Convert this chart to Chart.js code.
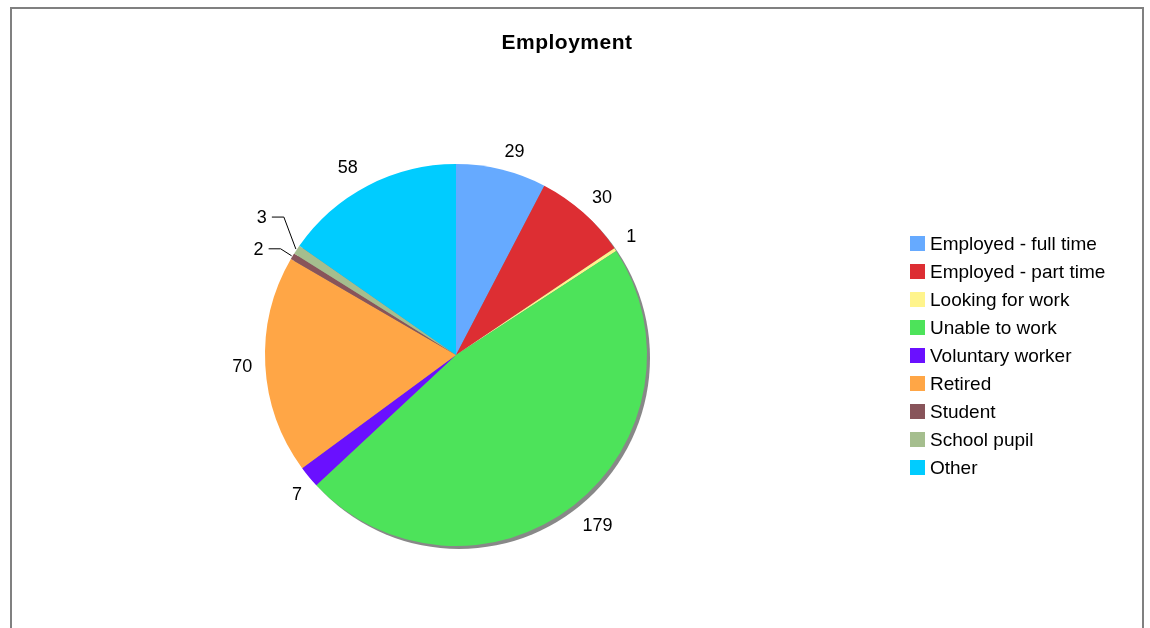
<!DOCTYPE html>
<html>
<head>
<meta charset="utf-8">
<script src="https://cdn.jsdelivr.net/npm/chart.js@4.4.1/dist/chart.umd.min.js"></script>
<style>
  html, body { margin: 0; padding: 0; background: #ffffff; }
  #wrap { width: 1150px; height: 628px; position: relative; }
</style>
</head>
<body>
<div id="wrap"><canvas id="chart" width="1150" height="628"></canvas></div>
<script>
const chartTitle = 'Employment';
const categories = [
  'Employed - full time',
  'Employed - part time',
  'Looking for work',
  'Unable to work',
  'Voluntary worker',
  'Retired',
  'Student',
  'School pupil',
  'Other'
];
const counts = [29, 30, 1, 179, 7, 70, 2, 3, 58];
const sliceColors = [
  '#66aaff', '#dd2e33', '#fff48c', '#4de35a', '#6a10ff',
  '#ffa646', '#88545a', '#a5be8e', '#00ccff'
];
// slices whose labels sit on a leader line (elbow offset from the rim, in px)
const leaderOffsets = { 6: [-11, -7], 7: [-12, -32] };
// small hand nudges for individual labels
const labelNudges = { 3: [1, 3], 4: [3, 3], 8: [-4, -1] };

const FONT = '"Liberation Sans", Arial, sans-serif';

const decorations = {
  id: 'decorations',
  beforeDraw(chart) {
    const ctx = chart.ctx;
    ctx.save();
    ctx.fillStyle = '#ffffff';
    ctx.fillRect(0, 0, chart.width, chart.height);
    // frame
    ctx.strokeStyle = '#808080';
    ctx.lineWidth = 2;
    ctx.strokeRect(11, 8, 1132, 640);
    // title
    ctx.fillStyle = '#000000';
    ctx.font = 'bold 21px ' + FONT;
    ctx.letterSpacing = '0.5px';
    ctx.textAlign = 'center';
    ctx.textBaseline = 'middle';
    ctx.fillText(chartTitle, 567, 43);
    ctx.restore();
  },
  beforeDatasetsDraw(chart) {
    // drop shadow under the pie
    const arc = chart.getDatasetMeta(0).data[0];
    if (!arc) return;
    const ctx = chart.ctx;
    ctx.save();
    ctx.fillStyle = '#888888';
    ctx.beginPath();
    ctx.arc(arc.x + 3, arc.y + 3, arc.outerRadius, 0, Math.PI * 2);
    ctx.fill();
    ctx.restore();
  },
  afterDatasetsDraw(chart) {
    const ctx = chart.ctx;
    const meta = chart.getDatasetMeta(0);
    ctx.save();
    ctx.font = '18px ' + FONT;
    ctx.letterSpacing = '0px';
    ctx.fillStyle = '#000000';
    ctx.textBaseline = 'middle';
    meta.data.forEach((el, i) => {
      const mid = (el.startAngle + el.endAngle) / 2;
      const r = el.outerRadius;
      const dx = Math.cos(mid), dy = Math.sin(mid);
      const text = String(counts[i]);
      if (leaderOffsets[i]) {
        const px = el.x + dx * (r + 1);
        const py = el.y + dy * (r + 1);
        const ex = px + leaderOffsets[i][0];
        const ey = py + leaderOffsets[i][1];
        const hx = ex - 12;
        ctx.strokeStyle = '#000000';
        ctx.lineWidth = 1;
        ctx.beginPath();
        ctx.moveTo(px, py);
        ctx.lineTo(ex, ey);
        ctx.lineTo(hx, ey);
        ctx.stroke();
        ctx.textAlign = 'right';
        ctx.fillText(text, hx - 5, ey + 1);
      } else {
        // the label box's nearest corner sits a little outside the rim
        const gap = 13;
        const w = ctx.measureText(text).width;
        const h = 12;
        const ax = el.x + dx * (r + gap);
        const ay = el.y + dy * (r + gap);
        let cx = ax + Math.sign(dx) * w / 2;
        let cy = ay + (Math.abs(dy) < 0.2 ? 0 : Math.sign(dy) * h / 2);
        if (labelNudges[i]) {
          cx += labelNudges[i][0];
          cy += labelNudges[i][1];
        }
        ctx.textAlign = 'center';
        ctx.fillText(text, cx, cy + 1);
      }
    });
    // legend
    ctx.font = '19px ' + FONT;
    ctx.textAlign = 'left';
    categories.forEach((name, i) => {
      const y = 244 + i * 28;
      ctx.fillStyle = sliceColors[i];
      ctx.fillRect(910, y - 8, 15, 15);
      ctx.fillStyle = '#000000';
      ctx.fillText(name, 930, y + 1);
    });
    ctx.restore();
  }
};

new Chart(document.getElementById('chart'), {
  type: 'pie',
  data: {
    labels: categories,
    datasets: [{
      data: counts,
      backgroundColor: sliceColors,
      borderWidth: 0
    }]
  },
  options: {
    responsive: false,
    animation: false,
    layout: { padding: { left: 265, right: 503, top: 164, bottom: 82 } },
    plugins: {
      legend: { display: false },
      title: { display: false },
      tooltip: { enabled: false }
    }
  },
  plugins: [decorations]
});
</script>
</body>
</html>
